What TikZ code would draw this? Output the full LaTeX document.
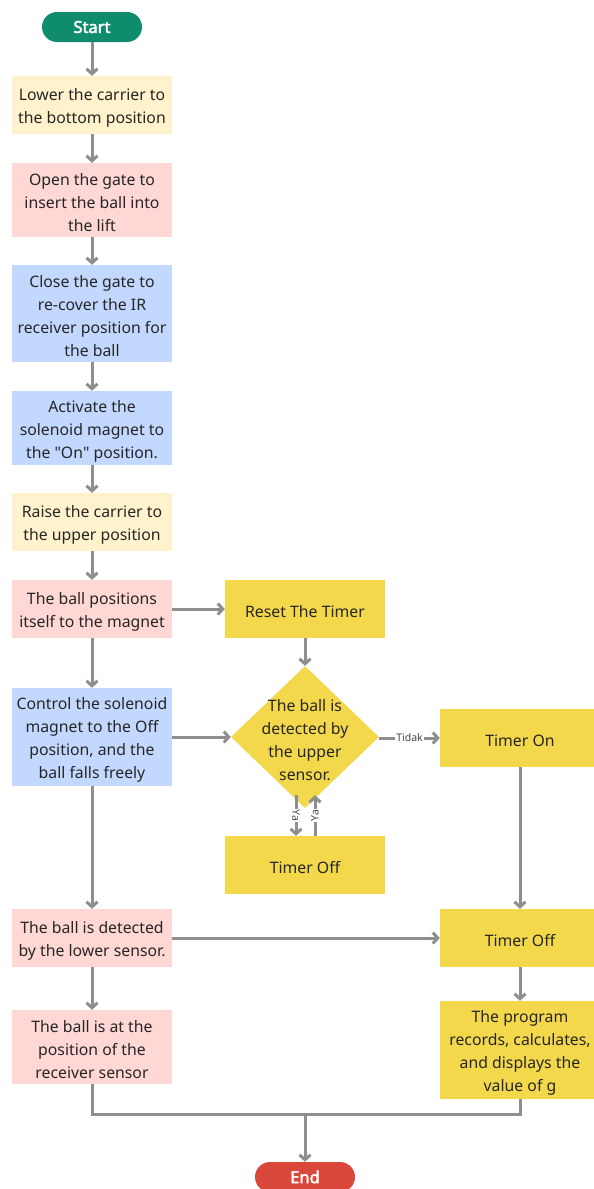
\documentclass[tikz,border=0pt]{standalone}
\usepackage{fontspec}
\setmainfont{Noto Sans}
\newfontfamily\termfont{Noto Sans}[FakeBold=2.5]
\usetikzlibrary{arrows.meta,shapes.geometric}
\definecolor{cgreen}{HTML}{0E8C6C}
\definecolor{cyel}{HTML}{FFF2CC}
\definecolor{cpink}{HTML}{FFD7D5}
\definecolor{cblue}{HTML}{C2D8FF}
\definecolor{cgold}{HTML}{F4D84C}
\definecolor{cred}{HTML}{D9483B}
\definecolor{cline}{HTML}{8E8E8E}
\definecolor{ctext}{HTML}{262626}
\tikzset{
  boxbg/.style={rectangle, inner sep=0pt, minimum width=160pt},
  boxtxt/.style={inner sep=0pt, align=center, font=\fontsize{15.8}{23}\selectfont, text=ctext},
  term/.style={rounded corners=15pt, inner sep=0pt, minimum width=100pt, minimum height=30pt,
    font=\fontsize{16.5}{20}\selectfont\termfont, text=white},
  conn/.style={draw=cline, line width=3pt, -{Straight Barb[length=5pt,width=11pt,line width=3pt]}},
  plain/.style={draw=cline, line width=3pt},
  lbl/.style={fill=white, inner sep=1pt, font=\fontsize{10.5}{11}\selectfont, text=ctext!85}
}
% name, colour, height, position, text
\newcommand\flowbox[5]{%
  \node[boxbg, fill=#2, minimum height=#3pt] (#1) at (#4) {};
  \node[boxtxt] (#1t) at ([yshift=-3pt]#1.center) {#5};
}
\begin{document}
\begin{tikzpicture}[x=1pt,y=-1pt]
\useasboundingbox[fill=white] (0,0) rectangle (594,1189);
\node[term, fill=cgreen] (start) at (92,27) {Start};
\flowbox{b1}{cyel}{58}{92,105}{Lower the carrier to\\the bottom position}
\flowbox{b2}{cpink}{74}{92,200}{Open the gate to\\insert the ball into\\the lift}
\flowbox{b3}{cblue}{97}{92,313.5}{Close the gate to\\re-cover the IR\\receiver position for\\the ball}
\flowbox{b4}{cblue}{74}{92,428}{Activate the\\solenoid magnet to\\the \textquotedbl On\textquotedbl\ position.}
\flowbox{b5}{cyel}{58}{92,522}{Raise the carrier to\\the upper position}
\flowbox{b6}{cpink}{58}{92,609}{The ball positions\\itself to the magnet}
\flowbox{b7}{cblue}{98}{92,737}{Control the solenoid\\magnet to the Off\\position, and the\\ball falls freely}
\flowbox{b8}{cpink}{58}{92,938}{The ball is detected\\by the lower sensor.}
\flowbox{b9}{cpink}{74}{92,1047}{The ball is at the\\position of the\\receiver sensor}
\flowbox{reset}{cgold}{58}{305,609}{Reset The Timer}
\node[diamond, fill=cgold, inner sep=0pt, minimum width=148pt, minimum height=142pt] (dia) at (305,737) {};
\node[boxtxt] (diat) at ([yshift=-3pt]dia.center) {The ball is\\detected by\\the upper\\sensor.};
\flowbox{toffm}{cgold}{58}{305,865}{Timer Off}
\flowbox{ton}{cgold}{58}{520,738}{Timer On}
\flowbox{toffr}{cgold}{58}{520,938}{Timer Off}
\flowbox{prog}{cgold}{98}{520,1050}{The program\\records, calculates,\\and displays the\\value of g}
\node[term, fill=cred] (end) at (305,1177) {End};
\coordinate (j1) at (92,1114);
\coordinate (j2) at (305,1114);
\coordinate (j3) at (520,1114);

\draw[conn] (start) -- (b1);
\draw[conn] (b1) -- (b2);
\draw[conn] (b2) -- (b3);
\draw[conn] (b3) -- (b4);
\draw[conn] (b4) -- (b5);
\draw[conn] (b5) -- (b6);
\draw[conn] (b6) -- (b7);
\draw[conn] (b7) -- (b8);
\draw[conn] (b8) -- (b9);
\draw[conn] (b6) -- (reset);
\draw[conn] (reset) -- (dia.north);
\draw[conn] (b7.east) -- (dia.west);
\draw[conn] (dia.east |- ton.west) -- node[lbl]{Tidak} (ton.west);
\draw[conn] ([xshift=-9pt,yshift=13pt]dia.south) -- node[lbl, rotate=-90]{Ya} ([xshift=-9pt]toffm.north);
\draw[conn] ([xshift=10pt]toffm.north) -- node[lbl, rotate=90]{Ya} ([xshift=10pt,yshift=13pt]dia.south);
\draw[conn] (ton) -- (toffr);
\draw[conn] (b8.east) -- (toffr.west);
\draw[conn] (toffr) -- (prog);
\draw[plain] (b9.south) -- (j1) -- (j3) -- (prog.south);
\draw[conn] (j2) -- (end.north);
\end{tikzpicture}
\end{document}
